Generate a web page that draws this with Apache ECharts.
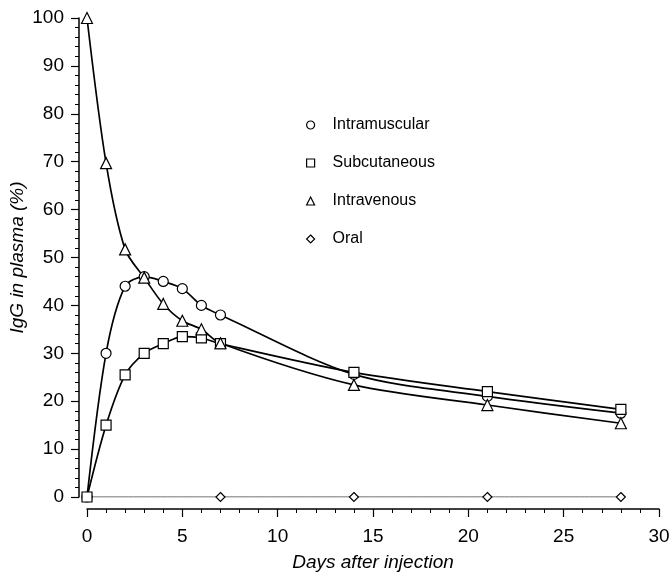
<!DOCTYPE html>
<html>
<head>
<meta charset="utf-8">
<script src="https://cdn.jsdelivr.net/npm/echarts@6/dist/echarts.min.js"></script>
<style>html,body{margin:0;padding:0;background:#fff}#c{width:671px;height:574px}</style>
</head>
<body>
<div id="c"></div>
<script>
const days = [0, 1, 2, 3, 4, 5, 6, 7, 14, 21, 28];
const intramuscular = [0, 30, 44, 46, 45, 43.5, 40, 38, 25.6, 21, 17.5];
const subcutaneous = [0, 15, 25.5, 30, 32, 33.5, 33.2, 32, 26, 22, 18.3];
const intravenous = [100, 69.7, 51.7, 45.8, 40.3, 36.8, 35, 32.1, 23.4, 19.2, 15.4];
const oralDays = [0, 7, 14, 21, 28];
const oral = [0, 0, 0, 0, 0];
const seriesNames = ['Intramuscular', 'Subcutaneous', 'Intravenous', 'Oral'];
const xTicks = [0, 5, 10, 15, 20, 25, 30];
const yTicks = [0, 10, 20, 30, 40, 50, 60, 70, 80, 90, 100];

const font = 'Liberation Sans, Arial, sans-serif';
const pairs = (xs, ys) => xs.map((x, i) => [x, ys[i]]);
const mk = (name, data, symbol, size, lw, color) => ({
  name, type: 'line', data, symbol, symbolSize: size,
  smooth: 0.3,
  lineStyle: { color: color, width: lw },
  itemStyle: { color: '#fff', borderColor: '#000', borderWidth: 1.2 },
  z: 3
});

const chart = echarts.init(document.getElementById('c'), null, { renderer: 'canvas' });
chart.setOption({
  animation: false,
  backgroundColor: '#fff',
  grid: { left: 87, right: 12, top: 18, bottom: 77, containLabel: false, outerBoundsMode: 'none' },
  legend: {
    orient: 'vertical', left: 301, top: 111, itemGap: 20,
    itemWidth: 8, itemHeight: 8,
    textStyle: { fontFamily: font, fontSize: 16, color: '#000', padding: [0, 0, 0, 13], lineHeight: 18 },
    data: [
      { name: seriesNames[0], icon: 'circle' },
      { name: seriesNames[1], icon: 'rect' },
      { name: seriesNames[2], icon: 'triangle' },
      { name: seriesNames[3], icon: 'diamond' }
    ],
    itemStyle: { color: '#fff', borderColor: '#000', borderWidth: 1.2 },
    lineStyle: { width: 0, opacity: 0 },
    selectedMode: false
  },
  xAxis: {
    type: 'value', min: 0, max: 30, interval: 5, offset: 12,
    name: 'Days after injection', nameLocation: 'middle', nameGap: 44,
    nameTextStyle: { fontFamily: font, fontSize: 19, fontStyle: 'italic', color: '#000' },
    axisLine: { show: true, onZero: false, lineStyle: { color: '#000', width: 1.5 } },
    axisTick: { show: true, inside: false, length: 8, lineStyle: { color: '#000', width: 1.2 } },
    minorTick: { show: true, splitNumber: 5, length: 4, lineStyle: { color: '#000', width: 1 } },
    axisLabel: { margin: 18, fontFamily: font, fontSize: 19, color: '#000', formatter: v => xTicks.includes(v) ? String(v) : '' },
    splitLine: { show: false }
  },
  yAxis: {
    type: 'value', min: 0, max: 100, interval: 10, offset: 8,
    name: 'IgG in plasma (%)', nameLocation: 'middle', nameGap: 52, nameRotate: 90,
    nameMoveOverlap: false,
    nameTextStyle: { fontFamily: font, fontSize: 19, fontStyle: 'italic', color: '#000' },
    axisLine: { show: true, onZero: false, lineStyle: { color: '#000', width: 1.5 } },
    axisTick: { show: true, inside: false, length: 8, lineStyle: { color: '#000', width: 1.2 } },
    minorTick: { show: true, splitNumber: 5, length: 4, lineStyle: { color: '#000', width: 1 } },
    axisLabel: { margin: 15, fontFamily: font, fontSize: 19, color: '#000', formatter: v => yTicks.includes(v) ? String(v) : '' },
    splitLine: { show: false }
  },
  series: [
    mk(seriesNames[0], pairs(days, intramuscular), 'circle', 10, 1.7, '#000'),
    mk(seriesNames[1], pairs(days, subcutaneous), 'rect', 10, 1.7, '#000'),
    mk(seriesNames[2], pairs(days, intravenous), 'triangle', 11, 1.7, '#000'),
    Object.assign(mk(seriesNames[3], pairs(oralDays, oral), 'diamond', 9, 1, '#444'), { z: 2 })
  ]
});
</script>
</body>
</html>
